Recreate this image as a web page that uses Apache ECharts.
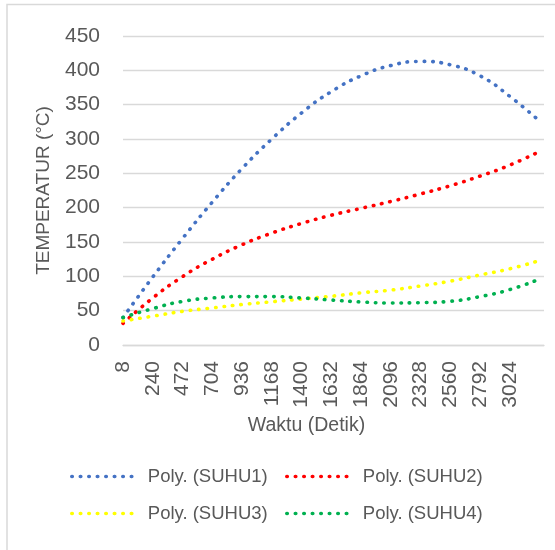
<!DOCTYPE html>
<html>
<head>
<meta charset="utf-8">
<script src="https://cdn.jsdelivr.net/npm/echarts@6/dist/echarts.min.js"></script>
<style>
html,body{margin:0;padding:0;background:#fff;}
#c{width:555px;height:550px;}
</style>
</head>
<body>
<div id="c"></div>
<script>
// Time (seconds) at which values were read
var timeS = [8, 240, 472, 704, 936, 1168, 1400, 1632, 1864, 2096, 2328, 2560, 2792, 3024, 3256];
// Polynomial trend values (°C)
var suhu1 = [40, 99, 155, 208, 257, 300, 338, 369, 392, 407, 413, 408, 392, 362, 326];
var suhu2 = [31.5, 68.5, 99.6, 125, 146, 163, 177, 189, 199, 209, 220, 232, 246, 262, 282];
var suhu3 = [35, 42, 49, 54, 59, 63, 67, 71, 76, 80, 86, 93, 102, 111, 123];
var suhu4 = [40, 53, 63.5, 68.5, 70.5, 70.5, 68.5, 65.5, 62.7, 61.2, 61.7, 63.7, 70.5, 80.7, 96];
var xTickLabels = [8, 240, 472, 704, 936, 1168, 1400, 1632, 1864, 2096, 2328, 2560, 2792, 3024];
var yTickLabels = [0, 50, 100, 150, 200, 250, 300, 350, 400, 450];
var seriesNames = ['Poly. (SUHU1)', 'Poly. (SUHU2)', 'Poly. (SUHU3)', 'Poly. (SUHU4)'];
var seriesColors = ['#4472C4', '#FF0000', '#FFFF00', '#00B050'];

var allValues = [suhu1, suhu2, suhu3, suhu4];
function pairs(vals) { return timeS.map(function (t, i) { return [t, vals[i]]; }); }

var textColor = '#595959';
var font = 'Liberation Sans';
var dotStyle = { width: 3.6, type: [0.5, 8], cap: 'round' };

var chart = echarts.init(document.getElementById('c'), null, {renderer: 'canvas'});
var series = allValues.map(function (vals, i) {
  return {
    name: seriesNames[i],
    type: 'line',
    data: pairs(vals),
    smooth: true,
    symbol: 'none',
    showSymbol: false,
    silent: true,
    color: seriesColors[i],
    lineStyle: { color: seriesColors[i], width: dotStyle.width, type: dotStyle.type, cap: dotStyle.cap }
  };
});

function legendAt(name, left, top) {
  return {
    data: [name],
    left: left, top: top,
    padding: 0,
    itemWidth: 63, itemHeight: 14,
    itemStyle: { opacity: 0 },
    lineStyle: { width: dotStyle.width, type: dotStyle.type, cap: dotStyle.cap },
    textStyle: { color: textColor, fontSize: 18.5, fontFamily: font, padding: [0, 0, 0, 8] },
    selectedMode: false
  };
}

chart.setOption({
  animation: false,
  backgroundColor: '#ffffff',
  graphic: [{
    type: 'rect', shape: { x: 7, y: 4.5, width: 700, height: 700 },
    style: { fill: 'none', stroke: '#D9D9D9', lineWidth: 1.5 }, silent: true
  }],
  grid: { left: 123, right: 11, top: 36, bottom: 205, containLabel: false },
  legend: [
    legendAt(seriesNames[0], 70, 467),
    legendAt(seriesNames[1], 285, 467),
    legendAt(seriesNames[2], 70, 504),
    legendAt(seriesNames[3], 285, 504)
  ],
  xAxis: {
    type: 'value',
    min: 8, max: 3290, interval: 232,
    name: 'Waktu (Detik)',
    nameLocation: 'middle',
    nameGap: 66,
    nameTextStyle: { color: textColor, fontSize: 19.5, fontFamily: font, padding: [0, 54, 0, 0] },
    axisLine: { show: true, onZero: true, lineStyle: { color: '#D9D9D9', width: 1.3 } },
    axisTick: { show: false },
    splitLine: { show: false },
    axisLabel: {
      rotate: 90, margin: 16,
      color: textColor, fontSize: 21, fontFamily: font,
      padding: [6, 0, 0, 0],
      showMinLabel: true, showMaxLabel: true,
      formatter: function (v) { return xTickLabels.indexOf(Math.round(v)) >= 0 ? String(Math.round(v)) : ''; }
    }
  },
  yAxis: {
    type: 'value',
    min: yTickLabels[0], max: yTickLabels[yTickLabels.length - 1], interval: 50,
    name: 'TEMPERATUR (°C)',
    nameLocation: 'middle',
    nameGap: 70,
    nameTextStyle: { color: textColor, fontSize: 19, fontFamily: font },
    axisLine: { show: false },
    axisTick: { show: false },
    splitLine: { lineStyle: { color: '#D9D9D9', width: 1.3 } },
    axisLabel: { color: textColor, fontSize: 21, fontFamily: font, margin: 23 }
  },
  series: series
});
</script>
</body>
</html>
